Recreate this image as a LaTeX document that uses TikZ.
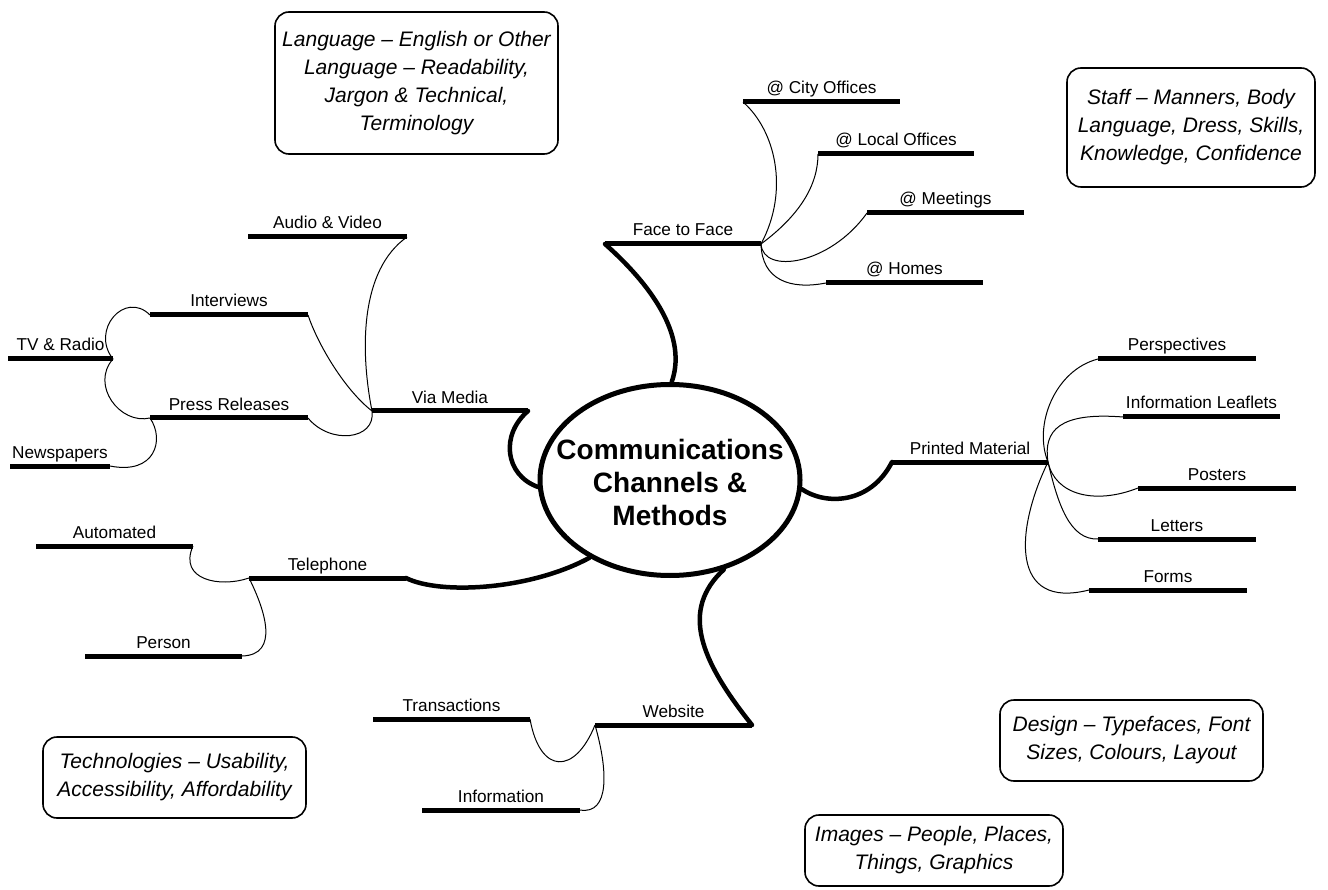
\documentclass[tikz,border=0pt]{standalone}
\usepackage{fontspec}
\setmainfont{Liberation Sans}
\usetikzlibrary{shapes.geometric}

\begin{document}
\begin{tikzpicture}[x=1pt, y=-1pt,
		branch/.style={line width=5pt},
		stem/.style={line width=4.5pt, line cap=round},
		twig/.style={line width=1pt},
		topic/.style={midway, anchor=base, yshift=8pt, inner sep=0pt, font=\fontsize{17.2}{19}\selectfont},
		note/.style={draw, line width=1.6pt, rounded corners=14pt, align=center, font=\fontsize{21}{28}\selectfont\itshape}]
	\useasboundingbox (0,0) rectangle (1328,890);

	% centre
	\node[ellipse, draw, line width=5pt, minimum width=260pt, minimum height=191pt] (hub) at (670,480) {};
	\node[align=center, font=\fontsize{28}{33}\selectfont\bfseries] (hubtext) at ([yshift=-2pt]hub.center) {Communications\\Channels \&\\Methods};

	% face to face
	\coordinate (ftf-a) at (605,244); \coordinate (ftf-b) at (761,244);
	\draw[branch] (ftf-a) -- (ftf-b) node[topic] (ftf) {Face to Face};
	\draw[stem] (hub.89) .. controls (690,330) and (640,275) .. (ftf-a);
	\coordinate (city-a) at (743,102); \coordinate (city-b) at (900,102);
	\draw[branch] (city-a) -- (city-b) node[topic] (city) {@ City Offices};
	\draw[twig] (ftf-b) .. controls (790,190) and (775,130) .. (city-a);
	\coordinate (local-a) at (818,154); \coordinate (local-b) at (974,154);
	\draw[branch] (local-a) -- (local-b) node[topic] (local) {@ Local Offices};
	\draw[twig] (ftf-b) .. controls (800,215) and (818,185) .. (local-a);
	\coordinate (meet-a) at (867,213); \coordinate (meet-b) at (1024,213);
	\draw[branch] (meet-a) -- (meet-b) node[topic] (meet) {@ Meetings};
	\draw[twig] (ftf-b) .. controls (763,275) and (830,265) .. (meet-a);
	\coordinate (home-a) at (826,283); \coordinate (home-b) at (983,283);
	\draw[branch] (home-a) -- (home-b) node[topic] (home) {@ Homes};
	\draw[twig] (ftf-b) .. controls (762,280) and (790,290) .. (home-a);

	% via media
	\coordinate (vm-a) at (372,411); \coordinate (vm-b) at (528,411);
	\draw[branch] (vm-a) -- (vm-b) node[topic] (vm) {Via Media};
	\draw[stem] (vm-b) .. controls (500,435) and (505,475) .. (hub.183);
	\coordinate (av-a) at (248,237); \coordinate (av-b) at (407,237);
	\draw[branch] (av-a) -- (av-b) node[topic] (av) {Audio \& Video};
	\draw[twig] (vm-a) .. controls (360,350) and (360,270) .. (av-b);
	\coordinate (int-a) at (150,315); \coordinate (int-b) at (308,315);
	\draw[branch] (int-a) -- (int-b) node[topic] (int) {Interviews};
	\draw[twig] (vm-a) .. controls (345,390) and (318,345) .. (int-b);
	\coordinate (pr-a) at (150,418); \coordinate (pr-b) at (308,418);
	\draw[branch] (pr-a) -- (pr-b) node[topic] (pr) {Press Releases};
	\draw[twig] (vm-a) .. controls (376,440) and (330,445) .. (pr-b);
	\coordinate (tv-a) at (8,359); \coordinate (tv-b) at (113,359);
	\draw[branch] (tv-a) -- (tv-b) node[topic] (tv) {TV \& Radio};
	\draw[twig] (int-a) .. controls (125,290) and (90,330) .. (tv-b);
	\draw[twig] (pr-a) .. controls (120,425) and (90,385) .. (tv-b);
	\coordinate (news-a) at (10,466); \coordinate (news-b) at (110,466);
	\draw[branch] (news-a) -- (news-b) node[topic] (news) {Newspapers};
	\draw[twig] (pr-a) .. controls (165,440) and (155,475) .. (news-b);

	% telephone
	\coordinate (tel-a) at (249,578); \coordinate (tel-b) at (406,578);
	\draw[branch] (tel-a) -- (tel-b) node[topic] (tel) {Telephone};
	\draw[stem] (tel-b) .. controls (440,595) and (530,590) .. (hub.224);
	\coordinate (auto-a) at (36,546); \coordinate (auto-b) at (193,546);
	\draw[branch] (auto-a) -- (auto-b) node[topic] (auto) {Automated};
	\draw[twig] (tel-a) .. controls (220,588) and (178,580) .. (auto-b);
	\coordinate (pers-a) at (85,656); \coordinate (pers-b) at (242,656);
	\draw[branch] (pers-a) -- (pers-b) node[topic] (pers) {Person};
	\draw[twig] (tel-a) .. controls (265,610) and (280,655) .. (pers-b);

	% website
	\coordinate (web-a) at (595,725); \coordinate (web-b) at (752,725);
	\draw[branch] (web-a) -- (web-b) node[topic] (web) {Website};
	\draw[stem] (web-b) .. controls (700,660) and (680,610) .. (hub.301);
	\coordinate (trans-a) at (373,719); \coordinate (trans-b) at (530,719);
	\draw[branch] (trans-a) -- (trans-b) node[topic] (trans) {Transactions};
	\draw[twig] (web-a) .. controls (575,775) and (540,775) .. (trans-b);
	\coordinate (info-a) at (422,810); \coordinate (info-b) at (580,810);
	\draw[branch] (info-a) -- (info-b) node[topic] (info) {Information};
	\draw[twig] (web-a) .. controls (608,770) and (610,815) .. (info-b);

	% printed material
	\coordinate (pm-a) at (892,462); \coordinate (pm-b) at (1048,462);
	\draw[branch] (pm-a) -- (pm-b) node[topic] (pm) {Printed Material};
	\draw[stem] (hub.356) .. controls (825,505) and (870,505) .. (pm-a);
	\coordinate (persp-a) at (1098,359); \coordinate (persp-b) at (1256,359);
	\draw[branch] (persp-a) -- (persp-b) node[topic] (persp) {Perspectives};
	\draw[twig] (pm-b) .. controls (1033,425) and (1055,370) .. (persp-a);
	\coordinate (leaf-a) at (1123,417); \coordinate (leaf-b) at (1280,417);
	\draw[branch] (leaf-a) -- (leaf-b) node[topic] (leaf) {Information Leaflets};
	\draw[twig] (pm-b) .. controls (1043,430) and (1060,412) .. (leaf-a);
	\coordinate (post-a) at (1138,488); \coordinate (post-b) at (1296,488);
	\draw[branch] (post-a) -- (post-b) node[topic] (post) {Posters};
	\draw[twig] (pm-b) .. controls (1055,495) and (1095,505) .. (post-a);
	\coordinate (lett-a) at (1098,539); \coordinate (lett-b) at (1256,539);
	\draw[branch] (lett-a) -- (lett-b) node[topic] (lett) {Letters};
	\draw[twig] (pm-b) .. controls (1058,505) and (1070,540) .. (lett-a);
	\coordinate (forms-a) at (1089,590); \coordinate (forms-b) at (1247,590);
	\draw[branch] (forms-a) -- (forms-b) node[topic] (forms) {Forms};
	\draw[twig] (pm-b) .. controls (1015,530) and (1010,610) .. (forms-a);

	% notes
	\node[note, minimum width=283pt, minimum height=142pt] (lang) at (416.5,83) {Language -- English or Other\\Language -- Readability,\\Jargon \& Technical,\\Terminology};
	\node[note, minimum width=248pt, minimum height=119pt] (staff) at (1191,127.5) {Staff -- Manners, Body\\Language, Dress, Skills,\\Knowledge, Confidence};
	\node[note, minimum width=263pt, minimum height=81pt] (tech) at (174.5,777.5) {Technologies -- Usability,\\Accessibility, Affordability};
	\node[note, minimum width=263pt, minimum height=81pt] (design) at (1131.5,740.5) {Design -- Typefaces, Font\\Sizes, Colours, Layout};
	\node[note, minimum width=258pt, minimum height=71pt] (images) at (934,850.5) {Images -- People, Places,\\Things, Graphics};

\end{tikzpicture}
\end{document}
